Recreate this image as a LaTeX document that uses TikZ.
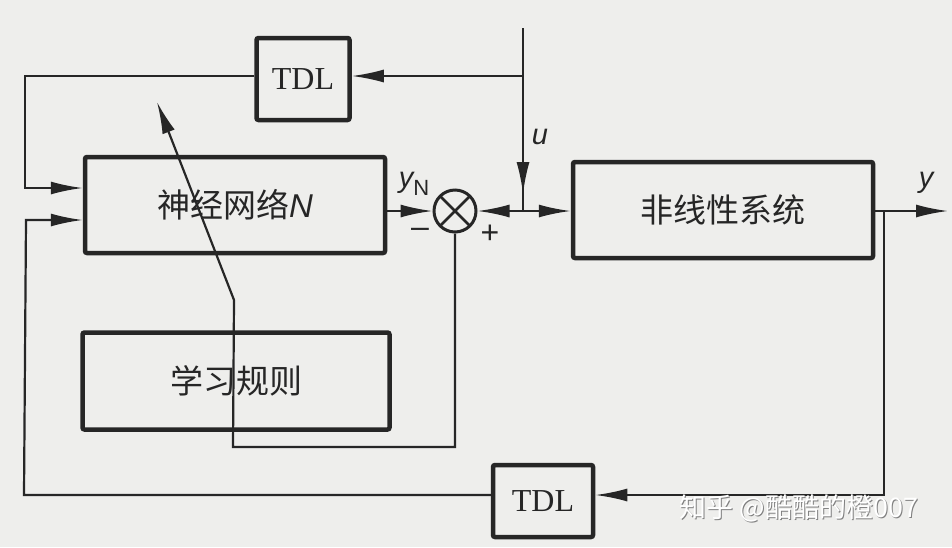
\documentclass[tikz,border=0pt]{standalone}
\usepackage{fontspec}
\setmainfont{Liberation Serif}
\newfontfamily\cjk{Noto Sans CJK SC}
\newfontfamily\lsans{Liberation Sans}
\usetikzlibrary{arrows.meta,calc}
\definecolor{ink}{RGB}{38,38,38}
\definecolor{paper}{RGB}{238,238,236}
\begin{document}
\begin{tikzpicture}[x=1pt,y=-1pt,
  box/.style={draw=ink,line width=4.5pt,rounded corners=2pt,inner sep=0pt},
  wire/.style={draw=ink,line width=2.2pt},
  arr/.style={wire,-{Latex[length=32pt,width=13pt]}},
  cn/.style={font=\cjk\fontsize{33}{36}\selectfont,text=ink},
  tdlfont/.style={font=\fontsize{32}{34}\selectfont,text=ink},
  lab/.style={font=\lsans\itshape\fontsize{29}{30}\selectfont,text=ink,inner sep=0pt},
  sign/.style={font=\lsans\fontsize{32}{34}\selectfont,text=ink,inner sep=0pt}]
\useasboundingbox (0,0) rectangle (952,547);
\fill[paper] (0,0) rectangle (952,547);

% blocks
\node[box,tdlfont,minimum width=93pt,minimum height=82pt] (tdl1) at (303,79) {TDL};
\node[box,cn,minimum width=300pt,minimum height=96pt] (nn) at (235,205) {神经网络\textit{\fontspec{Liberation Sans}N}};
\node[box,cn,minimum width=300pt,minimum height=96pt] (nl) at (723,210) {非线性系统};
\node[box,cn,minimum width=307pt,minimum height=97pt] (learn) at (236,381) {学习规则};
\node[box,tdlfont,minimum width=100pt,minimum height=72pt] (tdl2) at (543,501) {TDL};
\node[draw=ink,line width=3pt,circle,minimum size=42pt,inner sep=0pt,
  path picture={\draw[ink,line width=2.5pt]
    (path picture bounding box.north west) -- (path picture bounding box.south east)
    (path picture bounding box.north east) -- (path picture bounding box.south west);}]
  (sum) at (455,211) {};

% coordinates
\coordinate (utop) at (523,28);
\coordinate (ut) at (523,76);
\coordinate (j) at (523,211);
\coordinate (a1) at (25,76);
\coordinate (a2) at (25,188);
\coordinate (yout) at (948,211);
\coordinate (b1) at (884,211);
\coordinate (b2) at (884,495);
\coordinate (b3) at (24,495);
\coordinate (b4) at (26,220);
\coordinate (cR) at (455,447);
\coordinate (cL) at (233,447);
\coordinate (cK) at (234,300);
\coordinate (cT) at (157,102);

% connectors
\draw[wire] (utop) -- (j);
\draw[arr,shorten >=17pt] (ut) -- (j);
\draw[arr] (ut) -- (tdl1.east |- ut);
\draw[arr] (tdl1.west |- ut) -- (a1) -- (a2) -- (nn.west |- a2);
\draw[arr] (nn.east |- sum.west) -- (sum.west);
\draw[arr] (j) -- (sum.east);
\draw[arr] (j) -- (nl.west |- j);
\draw[arr] (nl.east |- yout) -- (yout);
\draw[arr] (b1) -- (b2) -- (tdl2.east |- b2);
\draw[arr] (tdl2.west |- b2) -- (b3) -- (b4) -- (nn.west |- b4);
\draw[arr] (sum.south) -- (cR) -- (cL) -- (cK) -- (cT);

% labels
\node[lab] (ulab) at (540,137) {u};
\node[lab] (ylab) at (926,183) {y};
\node[lab] (ynlab) at (414,184) {y\raisebox{-8pt}{\upshape\fontsize{22}{22}\selectfont N}};
\node[sign] (minus) at (420,233) {–};
\node[sign] (plus) at (490,234) {+};

% watermark
\node[font=\cjk\fontsize{27}{30}\selectfont,text=gray] (wm1) at (800,509) {知乎 @酷酷的橙007};
\node[font=\cjk\fontsize{27}{30}\selectfont,text=white] (wm) at (799,508) {知乎 @酷酷的橙007};
\end{tikzpicture}
\end{document}
